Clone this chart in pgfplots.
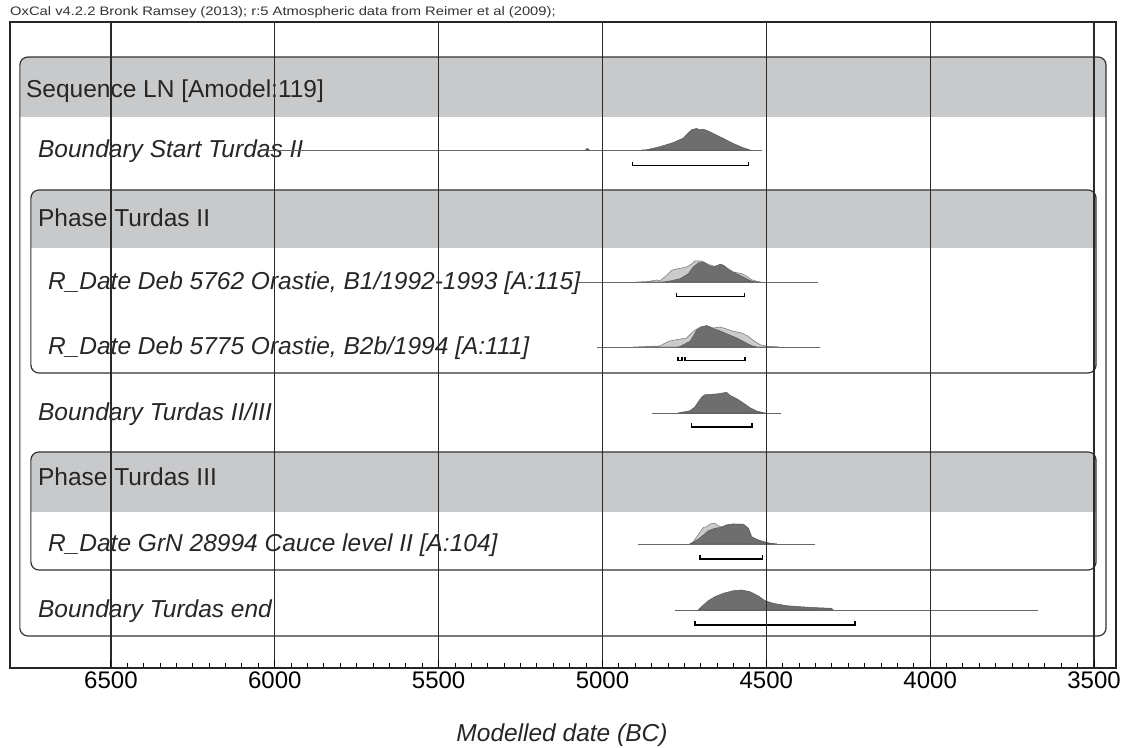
\documentclass[border=0pt]{standalone}
\usepackage{fontspec}
\setmainfont{Liberation Sans}
\usepackage{pgfplots}
\pgfplotsset{compat=1.18}
\definecolor{hdr}{HTML}{C8C9CB}
\definecolor{dk}{HTML}{6E6E6E}
\definecolor{lt}{HTML}{CBCBCB}
\definecolor{gridc}{HTML}{2A2A2A}
\newcommand{\fs}[1]{\fontsize{#1}{#1}\selectfont}
\begin{document}
\begin{tikzpicture}
\useasboundingbox (0,0) rectangle (1124pt,747pt);
\begin{axis}[
  at={(10pt,79pt)}, anchor=south west,
  scale only axis, width=1106pt, height=646pt,
  xmin=3433, xmax=6808, x dir=reverse,
  ymin=-668, ymax=-22,
  xtick={3500,4000,4500,5000,5500,6000,6500},
  minor x tick num=9,
  ytick=\empty,
  xtick pos=bottom,
  xtick align=inside,
  major tick length=8pt, minor tick length=5pt,
  tick style={black, line width=1pt},
  xmajorgrids,
  major grid style={gridc, line width=1.2pt},
  axis line style={black!85, line width=2pt},
  axis on top,
  clip=false,
  xticklabel style={font=\fs{24}},
  /pgf/number format/1000 sep={},
  /pgf/number format/assume math mode=true,
]
% ---- boxes and headers
\begin{scope}
\clip[rounded corners=8pt] (axis cs:6777.8,-57) rectangle (axis cs:3463.3,-636);
\fill[hdr] (axis cs:6777.8,-57) rectangle (axis cs:3463.3,-117);
\end{scope}
\draw[black!80, line width=1.2pt, rounded corners=8pt] (axis cs:6777.8,-57) rectangle (axis cs:3463.3,-636);
\begin{scope}
\clip[rounded corners=8pt] (axis cs:6744.2,-190) rectangle (axis cs:3493.8,-373);
\fill[hdr] (axis cs:6744.2,-190) rectangle (axis cs:3493.8,-248);
\end{scope}
\draw[black!80, line width=1.2pt, rounded corners=8pt] (axis cs:6744.2,-190) rectangle (axis cs:3493.8,-373);
\begin{scope}
\clip[rounded corners=8pt] (axis cs:6744.2,-452) rectangle (axis cs:3493.8,-570);
\fill[hdr] (axis cs:6744.2,-452) rectangle (axis cs:3493.8,-512);
\end{scope}
\draw[black!80, line width=1.2pt, rounded corners=8pt] (axis cs:6744.2,-452) rectangle (axis cs:3493.8,-570);
% ---- labels
\node[anchor=base west, inner sep=0, text=black!85] at (axis cs:6759.4,-98) {\fs{24.5}Sequence LN [Amodel:119]};
\node[anchor=base west, inner sep=0, text=black!85] at (axis cs:6722.8,-227) {\fs{24.5}Phase Turdas II};
\node[anchor=base west, inner sep=0, text=black!85] at (axis cs:6722.8,-486) {\fs{24.5}Phase Turdas III};
\node[anchor=base west, inner sep=0, text=black!85] at (axis cs:6722.8,-158) {\fs{24.5}\itshape Boundary Start Turdas II};
\node[anchor=base west, inner sep=0, text=black!85] at (axis cs:6692.3,-290) {\fs{24.5}\itshape R\_Date Deb 5762 Orastie, B1/1992-1993 [A:115]};
\node[anchor=base west, inner sep=0, text=black!85] at (axis cs:6692.3,-355) {\fs{24.5}\itshape R\_Date Deb 5775 Orastie, B2b/1994 [A:111]};
\node[anchor=base west, inner sep=0, text=black!85] at (axis cs:6722.8,-421) {\fs{24.5}\itshape Boundary Turdas II/III};
\node[anchor=base west, inner sep=0, text=black!85] at (axis cs:6692.3,-552) {\fs{24.5}\itshape R\_Date GrN 28994 Cauce level II [A:104]};
\node[anchor=base west, inner sep=0, text=black!85] at (axis cs:6722.8,-618) {\fs{24.5}\itshape Boundary Turdas end};
% ---- Boundary Start Turdas II
\addplot[black!60, line width=0.8pt] coordinates {(6033,-150) (4513,-150)};
\addplot[fill=dk, draw=dk!80!black, line width=0.5pt] coordinates {(5052,-150) (5046,-148.3) (5040,-150)} -- cycle;
\addplot[fill=dk, draw=dk!80!black, line width=0.5pt] coordinates {(4880,-150) (4864,-149.7) (4825,-146.7) (4785,-142.7) (4754,-138.3) (4739,-133.3) (4727,-129.5) (4720,-129) (4712,-128.5) (4705,-129.8) (4693,-129.2) (4681,-130.5) (4663,-133.3) (4632,-138.3) (4602,-143.3) (4574,-147.3) (4550,-150)} -- cycle;
\addplot[black, line width=1.6pt] coordinates {(4908,-161.7) (4908,-165.7) (4554,-165.7) (4554,-161.7)};
% ---- R_Date Deb 5762
\addplot[black!60, line width=0.8pt] coordinates {(5075,-282) (4342,-282)};
\addplot[fill=lt, draw=black!50, line width=0.6pt] coordinates {(4896,-282) (4860,-281.5) (4835,-280) (4825,-281) (4804,-275.3) (4789,-270.3) (4774,-269) (4743,-267) (4728,-264) (4718,-261) (4697,-261) (4677,-264.3) (4651,-267) (4641,-264.3) (4631,-265.3) (4616,-268.7) (4601,-272) (4575,-273.7) (4560,-276.3) (4545,-279.7) (4530,-281.3) (4515,-282)} -- cycle;
\addplot[fill=dk, draw=dk!80!black, line width=0.5pt] coordinates {(4815,-282) (4794,-281) (4763,-278.7) (4738,-273.7) (4723,-267) (4708,-263) (4692,-262) (4677,-265.3) (4662,-267) (4641,-264.3) (4631,-265.3) (4616,-269.7) (4596,-273) (4575,-276.3) (4555,-279.7) (4540,-281.7) (4530,-282)} -- cycle;
\addplot[black, line width=1.6pt] coordinates {(4774,-292.7) (4774,-296.7) (4567,-296.7) (4567,-292.7)};
% ---- R_Date Deb 5775
\addplot[black!60, line width=0.8pt] coordinates {(5017,-347) (4336,-347)};
\addplot[fill=lt, draw=black!50, line width=0.6pt] coordinates {(4906,-347) (4825,-346) (4799,-341.3) (4774,-339.7) (4743,-338) (4723,-331.3) (4702,-327) (4682,-325.7) (4662,-328) (4641,-327) (4621,-329) (4601,-331.3) (4575,-333) (4555,-336.3) (4540,-340.3) (4519,-344.7) (4499,-346.3) (4468,-346.7) (4460,-347)} -- cycle;
\addplot[fill=dk, draw=dk!80!black, line width=0.5pt] coordinates {(4770,-347) (4763,-346.5) (4733,-341.3) (4723,-336.3) (4713,-330.3) (4697,-327) (4682,-325.7) (4667,-328) (4646,-330.3) (4621,-333.7) (4590,-338) (4565,-342.3) (4545,-345.7) (4530,-347)} -- cycle;
\addplot[black, line width=1.6pt] coordinates {(4769,-357) (4769,-360.7) (4758,-360.7) (4758,-357)};
\addplot[black, line width=1.6pt] coordinates {(4748,-357.5) (4748,-360.7) (4565,-360.7) (4565,-356.7)};
% ---- Boundary Turdas II/III
\addplot[black!60, line width=0.8pt] coordinates {(4849,-413) (4455,-413)};
\addplot[fill=dk, draw=dk!80!black, line width=0.5pt] coordinates {(4770,-413) (4758,-412.3) (4733,-410.7) (4718,-407) (4708,-402) (4697,-397) (4687,-394.7) (4667,-394.3) (4646,-393.7) (4621,-392.3) (4611,-395.3) (4590,-398.7) (4570,-403) (4550,-407.7) (4530,-411) (4509,-412.7) (4500,-413)} -- cycle;
\addplot[black, line width=1.6pt] coordinates {(4728,-423.3) (4728,-427.3) (4543,-427.3) (4543,-423.3)};
% ---- R_Date GrN 28994
\addplot[black!60, line width=0.8pt] coordinates {(4891,-544) (4351,-544)};
\addplot[fill=lt, draw=black!50, line width=0.6pt] coordinates {(4733,-544) (4723,-541.7) (4708,-535) (4692,-527.3) (4682,-526.7) (4672,-524) (4657,-523.3) (4646,-526) (4636,-526.7) (4621,-525) (4601,-524) (4570,-524.3) (4555,-528.3) (4545,-536.7) (4530,-539.3) (4509,-541.7) (4489,-543.3) (4468,-544)} -- cycle;
\addplot[fill=dk, draw=dk!80!black, line width=0.5pt] coordinates {(4733,-544) (4708,-539.3) (4692,-535) (4677,-530.7) (4657,-528.3) (4636,-527.3) (4621,-525) (4601,-524) (4570,-524.3) (4555,-528.3) (4545,-536.7) (4530,-539.3) (4509,-541.7) (4489,-543.3) (4468,-544)} -- cycle;
\addplot[black, line width=1.6pt] coordinates {(4702,-555.3) (4702,-559.3) (4512,-559.3) (4512,-555.3)};
% ---- Boundary Turdas end
\addplot[black!60, line width=0.8pt] coordinates {(4779,-610) (3671,-610)};
\addplot[fill=dk, draw=dk!80!black, line width=0.5pt] coordinates {(4708,-610) (4692,-605) (4677,-600.7) (4657,-596.7) (4631,-593.3) (4601,-590.7) (4575,-590) (4550,-591.7) (4524,-596) (4504,-600.7) (4479,-603.3) (4438,-605.7) (4397,-606.7) (4346,-607.7) (4301,-608.3) (4296,-610)} -- cycle;
\addplot[black, line width=1.6pt] coordinates {(4718,-621) (4718,-625) (4229,-625) (4229,-621)};
\end{axis}
\node[anchor=base west, inner sep=0, text=black!80] at (10pt,731pt) {\scalebox{1.2}[1]{\fs{12.3}OxCal v4.2.2 Bronk Ramsey (2013); r:5 Atmospheric data from Reimer et al (2009);}};
\node[anchor=base, inner sep=0, text=black!85] at (562pt,6pt) {\fs{24.5}\itshape Modelled date (BC)};
\end{tikzpicture}
\end{document}
